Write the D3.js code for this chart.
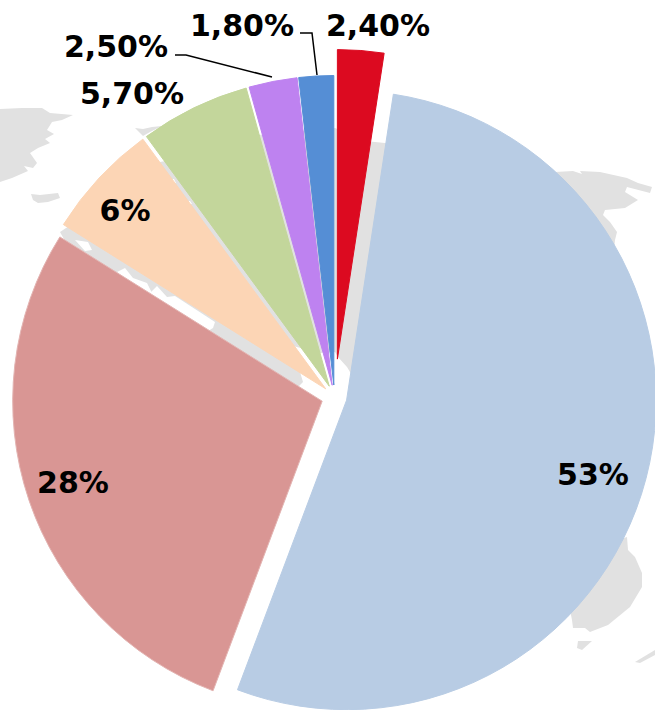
<!DOCTYPE html>
<html>
<head>
<meta http-equiv="Content-Type" content="text/html;charset=utf-8"/>
<title>Pie</title>
<script src="https://d3js.org/d3.v7.min.js"></script>
<style>
  html, body { margin: 0; padding: 0; background: #fff; }
  svg { display: block; }
  text { font-family: "DejaVu Sans", sans-serif; font-weight: bold; font-size: 30px; fill: #000; }
</style>
</head>
<body>
<div id="chart"></div>
<script>
// values as printed on the chart, clockwise from 12 o'clock
const labels = ["2,40%", "53%", "28%", "6%", "5,70%", "2,50%", "1,80%"];
const values = [2.4, 53, 28, 6, 5.7, 2.5, 1.8];
const colors = ["#DC0A20", "#B8CCE4", "#D99694", "#FCD5B5", "#C3D69B", "#BE82F0", "#558ED5"];
const strokes = ["#DC0A20", "#B8CCE4", "#E3B4B2", "#FCD5B5", "#C3D69B", "#BE82F0", "#558ED5"];

// layout, kept apart from the data
const width = 655, height = 710;
const cx = 334.5, cy = 397, radius = 309.5;
const explode = [38, 12.5, 13, 12, 12, 12, 12];
const labelPos = [[378, 25], [593, 474], [73, 482], [125, 210], [132, 93], [116, 46], [242, 25]];
const leaders = [
  [[175, 55], [186, 55], [272, 77]],
  [[300, 33], [312, 33], [317, 75]]
];

// backdrop world map, pixel outlines
const land = [
  [[0,109],[22,108],[42,108],[50,113],[73,115],[62,120],[52,122],[47,130],[54,134],[45,139],[50,143],[38,148],[30,153],[37,163],[33,168],[24,166],[28,171],[12,178],[0,182]],
  [[31,194],[40,195],[58,193],[60,198],[48,202],[38,203],[33,200]],
  [[135,128],[143,129],[152,127],[162,126],[150,132],[143,136]],
  [[60,232],[75,222],[160,162],[182,158],[258,135],[300,131],[335,128],[365,141],[385,143],[555,172],[573,171],[582,174],[580,171],[600,172],[627,178],[638,183],[652,187],[650,193],[627,187],[625,192],[638,200],[625,208],[605,210],[603,215],[610,222],[617,232],[615,240],[600,400],[420,450],[350,372],[347,367],[338,357],[335,352],[320,353],[293,346],[300,372],[303,382],[297,388],[70,250]],
  [[627,537],[628,550],[635,557],[642,573],[642,587],[630,607],[608,625],[590,632],[585,628],[573,628],[572,620],[560,560]],
  [[578,641],[592,641],[582,650],[577,648]],
  [[655,650],[655,655],[640,663],[635,662]]
];
// bits of sea showing through the land
const sea = [
  [[75,240],[88,242],[92,250],[85,251]],
  [[117,272],[125,268],[133,278],[147,283],[152,293],[140,292]],
  [[150,293],[157,286],[167,297],[175,296],[215,322],[213,328],[205,333],[140,292]],
  [[172,179],[174,179],[176,183],[173,183]],
  [[187,201],[190,201],[192,204],[189,204]]
];

const svg = d3.select("#chart").append("svg")
  .attr("width", width)
  .attr("height", height);

const outline = d3.line().curve(d3.curveLinearClosed);

svg.append("g").selectAll("path")
  .data(land)
  .enter().append("path")
  .attr("d", outline)
  .attr("fill", "#E1E1E1");

svg.append("g").selectAll("path")
  .data(sea)
  .enter().append("path")
  .attr("d", outline)
  .attr("fill", "#fff");

const pie = d3.pie().sort(null).value(d => d);
const arc = d3.arc().innerRadius(0).outerRadius(radius);

const slices = svg.append("g")
  .attr("transform", "translate(" + cx + "," + cy + ")");

slices.selectAll("path")
  .data(pie(values))
  .enter().append("path")
  .attr("d", arc)
  .attr("fill", (d, i) => colors[i])
  .attr("stroke", (d, i) => strokes[i])
  .attr("stroke-width", 1)
  .attr("transform", (d, i) => {
    const mid = (d.startAngle + d.endAngle) / 2;
    return "translate(" + (Math.sin(mid) * explode[i]) + "," + (-Math.cos(mid) * explode[i]) + ")";
  });

svg.append("g").selectAll("path")
  .data(leaders)
  .enter().append("path")
  .attr("d", d3.line())
  .attr("fill", "none")
  .attr("stroke", "#000")
  .attr("stroke-width", 1.5);

svg.append("g").selectAll("text")
  .data(labels)
  .enter().append("text")
  .attr("x", (d, i) => labelPos[i][0])
  .attr("y", (d, i) => labelPos[i][1])
  .attr("text-anchor", "middle")
  .attr("dy", ".36em")
  .text(d => d);
</script>
</body>
</html>
